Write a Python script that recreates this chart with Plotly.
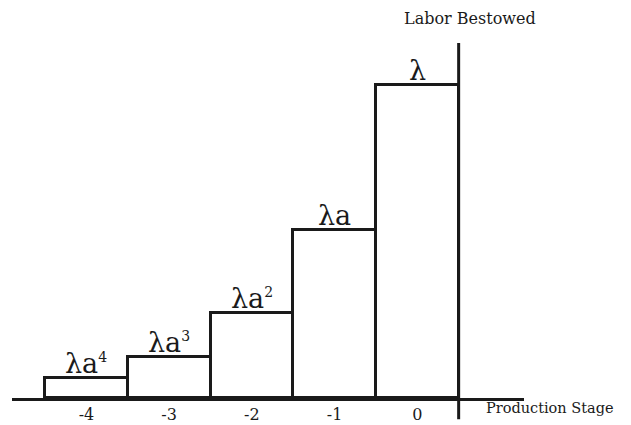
import plotly.graph_objects as go

stages = [-4, -3, -2, -1, 0]
labor = [0.065, 0.132, 0.27, 0.537, 1.0]
exponents = ["4", "3", "2", "", ""]
bar_bases = ["λa", "λa", "λa", "λa", "λ"]
tick_text = ["-4", "-3", "-2", "-1", "0"]

FONT = "DejaVu Serif"
INK = "#1a1a1a"

fig = go.Figure()
fig.add_trace(go.Bar(
    x=stages, y=labor, base=0, width=1,
    marker=dict(color="white", line=dict(color=INK, width=3)),
    hoverinfo="skip",
))

for s, v, b, e in zip(stages, labor, bar_bases, exponents):
    txt = b + (f"<sup><span style='font-size:14px'>{e}</span></sup>" if e else "")
    fig.add_annotation(x=s, y=v, text=txt, showarrow=False, yanchor="bottom",
                       yshift=-3, font=dict(family=FONT, size=27, color=INK))

# vertical axis (Labor Bestowed) at right edge of stage 0
fig.add_shape(type="line", xref="x", yref="paper", x0=0.5, x1=0.5, y0=-0.06, y1=1,
              line=dict(color=INK, width=3))

fig.add_annotation(xref="paper", yref="paper", x=0.895, y=1.07, text="Labor Bestowed",
                   showarrow=False, xanchor="center", yanchor="middle",
                   font=dict(family=FONT, size=16, color=INK))
fig.add_annotation(xref="paper", yref="paper", x=0.922, y=-0.027, text="Production Stage",
                   showarrow=False, xanchor="left", yanchor="middle",
                   font=dict(family=FONT, size=14.5, color=INK))

# page body has an 8px margin; figure sized/offset so the plot lands where the reference has it
fig.update_layout(
    width=623, height=417,
    margin=dict(l=4, r=107, t=35, b=26.5),
    paper_bgcolor="white", plot_bgcolor="white",
    showlegend=False, bargap=0,
    xaxis=dict(range=[-4.9, 1.29], tickmode="array", tickvals=stages, ticktext=tick_text,
               showgrid=False, zeroline=False, showline=True, linecolor=INK,
               linewidth=3, ticks="", automargin=False,
               tickfont=dict(family=FONT, size=16, color=INK)),
    yaxis=dict(range=[0, 1.134], visible=False, showgrid=False, zeroline=False,
               automargin=False),
)

fig.write_html("out.html")
